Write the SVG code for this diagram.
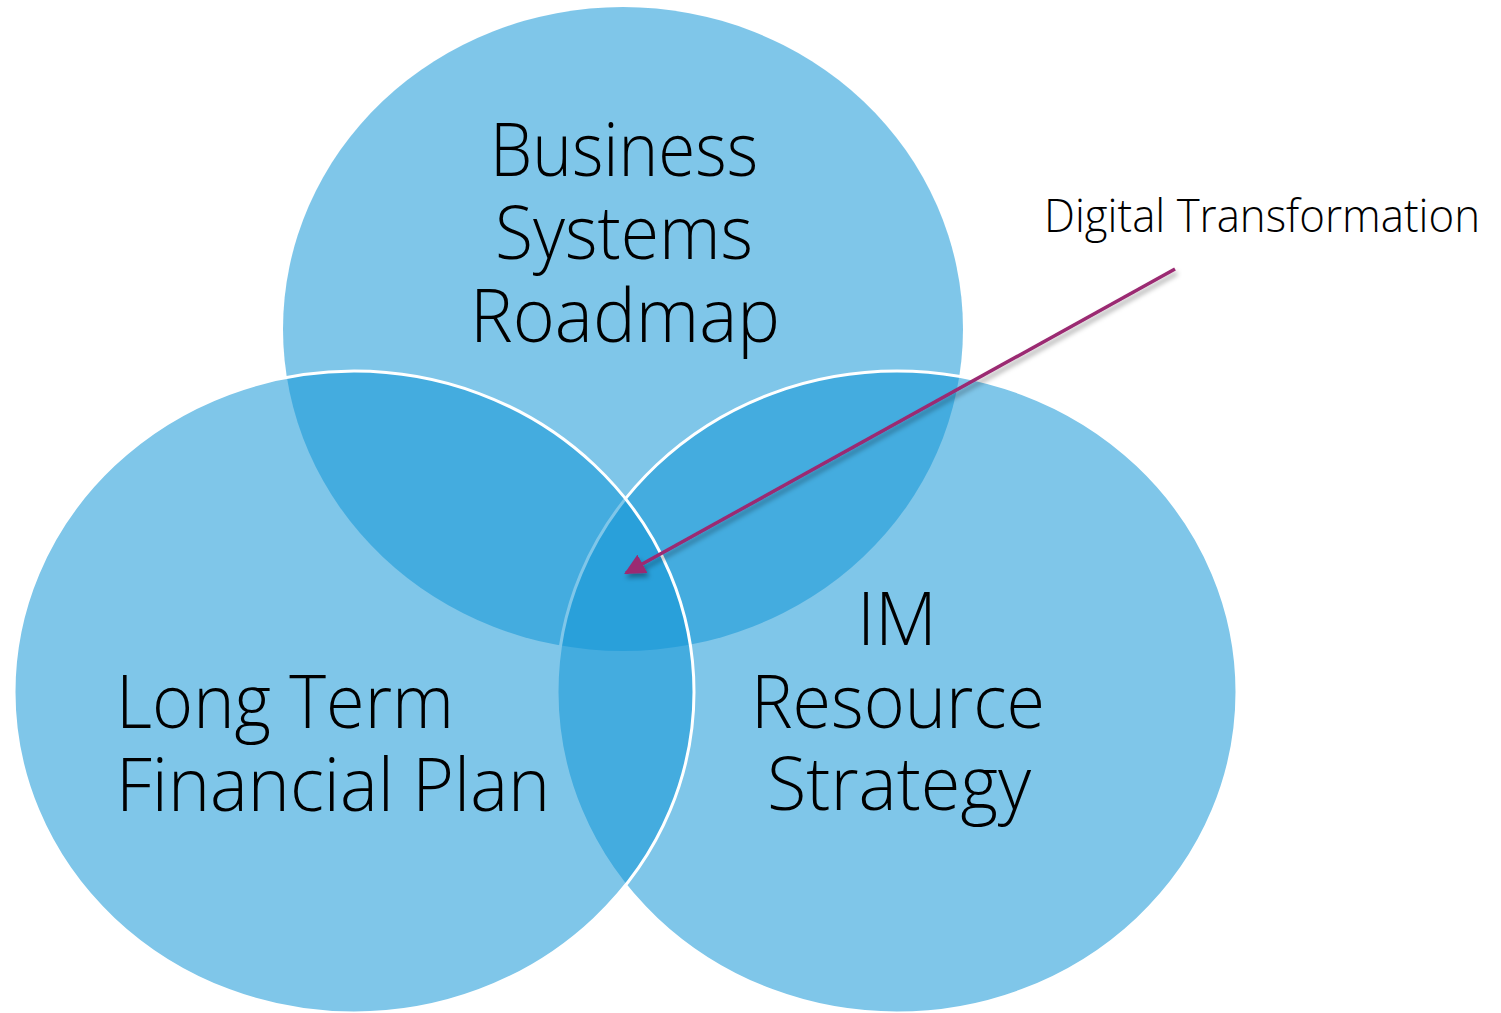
<svg xmlns="http://www.w3.org/2000/svg" width="1501" height="1013" viewBox="0 0 1501 1013">
  <style>
    .set { fill: #1296d7; fill-opacity: 0.54; }
    .edge { stroke: #ffffff; stroke-width: 3; }
    .label { font-family: "Open Sans", "Liberation Sans", sans-serif; font-weight: 300; fill: #000000; }
    .big { font-size: 74px; }
    .note { font-size: 46px; }
  </style>
  <defs>
    <marker id="head" viewBox="0 0 10 10" refX="9" refY="5" markerWidth="6" markerHeight="6" markerUnits="strokeWidth" orient="auto">
      <path d="M0,0 L10,5 L0,10 z" fill="#9b2a72"/>
    </marker>
    <filter id="shadow" x="-10%" y="-10%" width="120%" height="130%">
      <feDropShadow dx="2" dy="4" stdDeviation="2.5" flood-color="#000000" flood-opacity="0.35"/>
    </filter>
  </defs>
  <rect width="1501" height="1013" fill="#ffffff"/>

  <!-- three overlapping sets -->
  <g id="node-business-systems">
    <ellipse class="set" cx="623" cy="329" rx="340" ry="322"/>
  </g>
  <g id="node-im-resource">
    <ellipse class="set edge" cx="897" cy="692" rx="340" ry="321"/>
  </g>
  <g id="node-long-term">
    <ellipse class="set edge" cx="354" cy="692" rx="340" ry="321"/>
  </g>

  <!-- labels -->
  <g id="label-business-systems">
    <text class="label big" text-anchor="middle" x="624" y="176" textLength="268" lengthAdjust="spacingAndGlyphs">Business</text>
    <text class="label big" text-anchor="middle" x="624" y="259" textLength="258" lengthAdjust="spacingAndGlyphs">Systems</text>
    <text class="label big" text-anchor="middle" x="625" y="342" textLength="310" lengthAdjust="spacingAndGlyphs">Roadmap</text>
  </g>
  <g id="label-long-term">
    <text class="label big" x="116" y="728" textLength="338" lengthAdjust="spacingAndGlyphs">Long Term</text>
    <text class="label big" x="116" y="811" textLength="434" lengthAdjust="spacingAndGlyphs">Financial Plan</text>
  </g>
  <g id="label-im-resource">
    <text class="label big" text-anchor="middle" x="897" y="645" textLength="80" lengthAdjust="spacingAndGlyphs">IM</text>
    <text class="label big" text-anchor="middle" x="898" y="728" textLength="294" lengthAdjust="spacingAndGlyphs">Resource</text>
    <text class="label big" text-anchor="middle" x="899" y="810" textLength="264" lengthAdjust="spacingAndGlyphs">Strategy</text>
  </g>
  <g id="label-digital">
    <text class="label note" x="1044" y="232" textLength="436" lengthAdjust="spacingAndGlyphs">Digital Transformation</text>
  </g>

  <!-- callout connector -->
  <g id="connectors">
    <line x1="1175" y1="269" x2="626" y2="573" stroke="#9b2a72" stroke-width="3.5" marker-end="url(#head)" filter="url(#shadow)"/>
  </g>
</svg>
